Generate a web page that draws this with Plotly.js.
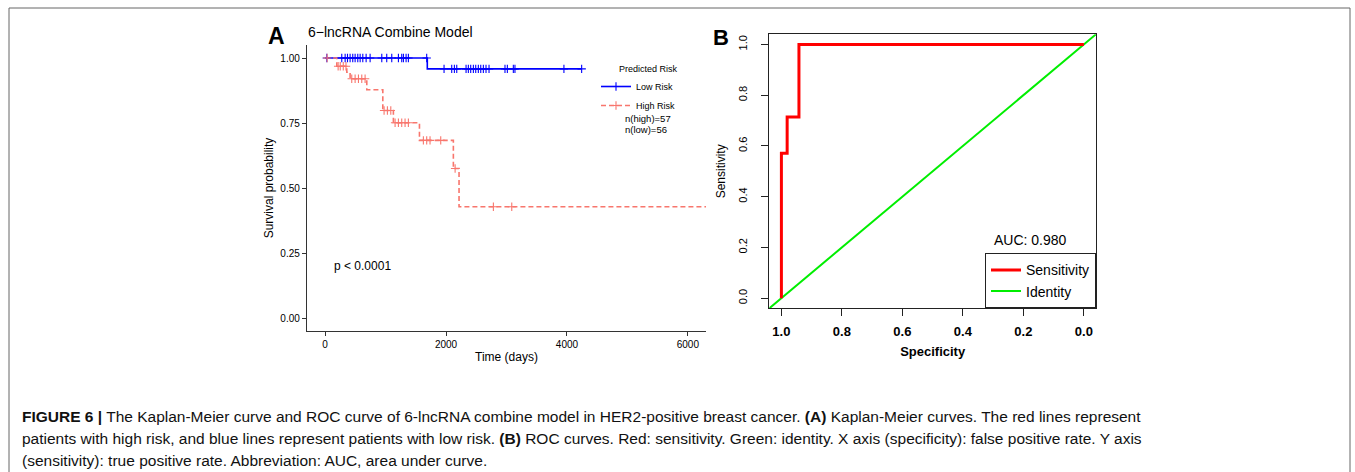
<!DOCTYPE html>
<html>
<head>
<meta charset="utf-8">
<script src="https://cdn.plot.ly/plotly-3.0.1.min.js"></script>
<style>
  html, body { margin: 0; padding: 0; background: #ffffff; }
  #chart { width: 1355px; height: 472px; }
</style>
</head>
<body>
<div id="chart"></div>
<script>
// ---------- Data: Kaplan-Meier (panel A) ----------
const lowRiskTime = [0, 1690, 4243];
const lowRiskSurv = [1.00, 0.958, 0.958];
const lowRiskCensor = [28, 275, 331, 370, 413, 457, 496, 540, 579, 623, 678, 744, 937, 1019, 1102,
  1212, 1267, 1295, 1339, 1377, 1680, 1967, 2094, 2138, 2177, 2331, 2369, 2408, 2452, 2491, 2534,
  2574, 2617, 2661, 2711, 2975, 3014, 3113, 3140, 3950, 4243];

const highRiskTime = [0, 193, 358, 413, 689, 954, 1129, 1560, 2121, 2215, 6300];
const highRiskSurv = [1.00, 0.968, 0.945, 0.920, 0.878, 0.798, 0.751, 0.683, 0.575, 0.428, 0.428];
const highRiskCensor = [33, 215, 250, 300, 345, 440, 496, 551, 606, 661, 975, 1030, 1086,
  1157, 1212, 1267, 1322, 1377, 1625, 1680, 1735, 1912, 2150, 2783, 3087];

const kmXTicks = [0, 2000, 4000, 6000];
const kmYTicks = [0, 0.25, 0.5, 0.75, 1];
const riskGroups = ["Low Risk", "High Risk"];
const groupCounts = {high: 57, low: 56};
const pValueText = "p < 0.0001";

// ---------- Data: ROC (panel B) ----------
const rocSpecificity = [1.0, 1.0, 0.981, 0.981, 0.942, 0.942, 0.0];
const rocSensitivity = [0.0, 0.571, 0.571, 0.714, 0.714, 1.0, 1.0];
const identitySpecificity = [1.04, -0.04];
const rocTicks = [1.0, 0.8, 0.6, 0.4, 0.2, 0.0];
const aucValue = 0.980;

// ---------- helpers ----------
const W = 1355, H = 472;
const px = x => x / W;
const py = y => 1 - y / H;
function stepAt(times, surv, t) {
  let v = surv[0];
  for (let i = 0; i < times.length; i++) { if (times[i] <= t) v = surv[i]; }
  return v;
}
const FONT = "Liberation Sans, Arial, Helvetica, sans-serif";
const BLUE = "#0000FF", SALMON = "#F8766D";
const HIGH_DASH = "5px,3px";

const traces = [
  // KM step curves
  {x: lowRiskTime, y: lowRiskSurv, type: "scatter", mode: "lines", line: {shape: "hv", color: BLUE, width: 1.6},
   xaxis: "x", yaxis: "y", showlegend: false, hoverinfo: "skip"},
  {x: highRiskTime, y: highRiskSurv, type: "scatter", mode: "lines", line: {shape: "hv", color: SALMON, width: 1.6, dash: HIGH_DASH},
   xaxis: "x", yaxis: "y", showlegend: false, hoverinfo: "skip"},
  // censor marks
  {x: lowRiskCensor, y: lowRiskCensor.map(t => stepAt(lowRiskTime, lowRiskSurv, t)), type: "scatter", mode: "markers",
   marker: {symbol: "cross-thin", size: 6, line: {color: BLUE, width: 1.1}}, xaxis: "x", yaxis: "y", showlegend: false},
  {x: highRiskCensor, y: highRiskCensor.map(t => stepAt(highRiskTime, highRiskSurv, t)), type: "scatter", mode: "markers",
   marker: {symbol: "cross-thin", size: 6, line: {color: SALMON, width: 1.1}}, xaxis: "x", yaxis: "y", showlegend: false},
  // legend entries for KM
  {x: [null], y: [null], type: "scatter", mode: "lines+markers", name: riskGroups[0], legend: "legend",
   line: {color: BLUE, width: 1.6}, marker: {symbol: "cross-thin", size: 6, line: {color: BLUE, width: 1.1}}, xaxis: "x", yaxis: "y"},
  {x: [null], y: [null], type: "scatter", mode: "lines+markers", name: riskGroups[1], legend: "legend",
   line: {color: SALMON, width: 1.6, dash: HIGH_DASH}, marker: {symbol: "cross-thin", size: 6, line: {color: SALMON, width: 1.1}}, xaxis: "x", yaxis: "y"},
  // ROC
  {x: identitySpecificity, y: identitySpecificity.map(s => 1 - s), type: "scatter", mode: "lines", name: "Identity",
   line: {color: "#00EE00", width: 2}, xaxis: "x2", yaxis: "y2", legend: "legend2", legendrank: 2, hoverinfo: "skip"},
  {x: rocSpecificity, y: rocSensitivity, type: "scatter", mode: "lines", name: "Sensitivity",
   line: {color: "#FF0000", width: 3}, xaxis: "x2", yaxis: "y2", legend: "legend2", legendrank: 1, hoverinfo: "skip"}
];

const caption = [
  "<b>FIGURE 6 |</b> The Kaplan-Meier curve and ROC curve of 6-lncRNA combine model in HER2-positive breast cancer. <b>(A)</b> Kaplan-Meier curves. The red lines represent",
  "patients with high risk, and blue lines represent patients with low risk. <b>(B)</b> ROC curves. Red: sensitivity. Green: identity. X axis (specificity): false positive rate. Y axis",
  "(sensitivity): true positive rate. Abbreviation: AUC, area under curve."
];
const captionY = [416, 438.5, 460.5];

const annotations = [
  {text: "<b>A</b>", x: px(266), y: py(36), xanchor: "left", yanchor: "middle", font: {size: 23, color: "#000"}},
  {text: "<b>B</b>", x: px(711), y: py(37), xanchor: "left", yanchor: "middle", font: {size: 22, color: "#000"}},
  {text: "6\u2212lncRNA Combine Model", x: px(306), y: py(32), xanchor: "left", yanchor: "middle", font: {size: 14, color: "#000"}},
  {text: "Predicted Risk", x: px(617), y: py(69), xanchor: "left", yanchor: "middle", font: {size: 9, color: "#000"}},
  {text: "n(high)=" + groupCounts.high, x: px(623), y: py(118), xanchor: "left", yanchor: "middle", font: {size: 9.5, color: "#000"}},
  {text: "n(low)=" + groupCounts.low, x: px(623), y: py(129), xanchor: "left", yanchor: "middle", font: {size: 9.5, color: "#000"}},
  {text: pValueText, x: px(332), y: py(266), xanchor: "left", yanchor: "middle", font: {size: 12, color: "#000"}},
  {text: "AUC: " + aucValue.toFixed(3), x: px(1030), y: py(240), xanchor: "center", yanchor: "middle", font: {size: 14, color: "#000"}}
].concat(caption.map((t, i) => ({
  text: t, x: px(20), y: py(captionY[i]), xanchor: "left", yanchor: "middle", font: {size: 15.5, color: "#111"}
})));
annotations.forEach(a => { a.xref = "paper"; a.yref = "paper"; a.showarrow = false; a.font.family = FONT; });

const layout = {
  width: W, height: H,
  margin: {l: 0, r: 0, t: 0, b: 0},
  paper_bgcolor: "#ffffff", plot_bgcolor: "#ffffff",
  font: {family: FONT, color: "#000"},
  xaxis: {
    domain: [px(307), px(706)], range: [-300, 6300], anchor: "y",
    tickvals: kmXTicks, ticktext: kmXTicks.map(String),
    showline: true, linecolor: "#333", linewidth: 1.2, ticks: "outside", ticklen: 4, tickcolor: "#333",
    showgrid: false, zeroline: false, tickfont: {size: 10, color: "#000"},
    title: {text: "Time (days)", font: {size: 12, color: "#000"}, standoff: 3}
  },
  yaxis: {
    domain: [py(331), py(45)], range: [-0.05, 1.05], anchor: "x",
    tickvals: kmYTicks, ticktext: kmYTicks.map(v => v.toFixed(2)),
    showline: true, linecolor: "#333", linewidth: 1.2, ticks: "outside", ticklen: 4, tickcolor: "#333",
    showgrid: false, zeroline: false, tickfont: {size: 10, color: "#000"},
    title: {text: "Survival probability", font: {size: 12, color: "#000"}, standoff: 4}
  },
  xaxis2: {
    domain: [px(769.3), px(1096)], range: [1.04, -0.04], anchor: "y2",
    tickvals: rocTicks, ticktext: rocTicks.map(v => v.toFixed(1)),
    showline: true, mirror: true, linecolor: "#222", linewidth: 1, ticks: "outside", ticklen: 7, tickcolor: "#222",
    showgrid: false, zeroline: false, tickfont: {size: 13, color: "#000", weight: "bold"}, ticklabelstandoff: 4,
    title: {text: "Specificity", font: {size: 13, color: "#000", weight: "bold"}, standoff: 8}
  },
  yaxis2: {
    domain: [py(308.3), py(34.3)], range: [-0.04, 1.04], anchor: "x2",
    tickvals: rocTicks, ticktext: rocTicks.map(v => v.toFixed(1)), tickangle: -90,
    showline: true, mirror: true, linecolor: "#222", linewidth: 1, ticks: "outside", ticklen: 7, tickcolor: "#222",
    showgrid: false, zeroline: false, tickfont: {size: 11, color: "#000"}, ticklabelstandoff: 10,
    title: {text: "Sensitivity", font: {size: 12, color: "#000"}, standoff: 8}
  },
  legend: {
    x: px(596), y: py(72), xanchor: "left", yanchor: "top",
    bgcolor: "rgba(255,255,255,0)", borderwidth: 0, font: {size: 9, family: FONT, color: "#000"},
    tracegroupgap: 0, itemclick: false
  },
  legend2: {
    x: px(1096), y: py(308.3), xanchor: "right", yanchor: "bottom",
    bgcolor: "#ffffff", bordercolor: "#222", borderwidth: 1, font: {size: 14, family: FONT, color: "#000"},
    tracegroupgap: 0
  },
  annotations: annotations,
  shapes: [
    {type: "rect", xref: "paper", yref: "paper", x0: px(9), x1: px(1350), y0: py(8), y1: py(495),
     line: {color: "#666", width: 1}, fillcolor: "rgba(0,0,0,0)", layer: "below"}
  ],
  showlegend: true
};

Plotly.newPlot("chart", traces, layout, {staticPlot: true, displayModeBar: false});
</script>
</body>
</html>
